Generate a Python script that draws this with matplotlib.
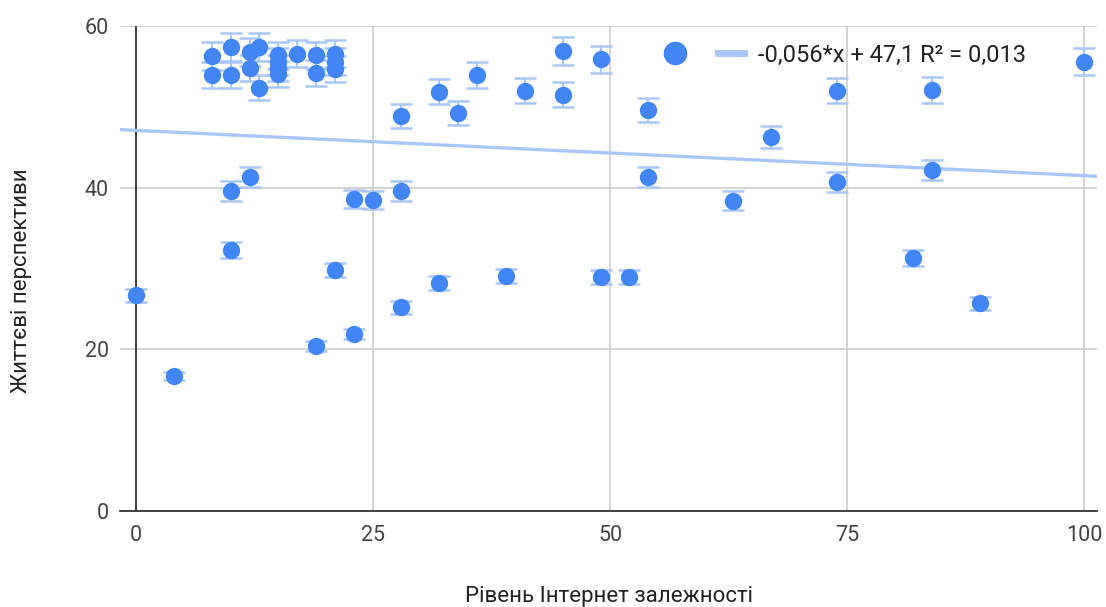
import matplotlib.pyplot as plt
from matplotlib.lines import Line2D
import numpy as np

plt.rcParams['font.family'] = ['Roboto', 'DejaVu Sans']

# Рівень Інтернет залежності (x) vs Життєві перспективи (y)
internet = [0, 4, 8, 8, 10, 10, 10, 10, 12, 12, 12, 13, 13,
            15, 15, 15, 15, 17, 19, 19, 19, 21, 21, 21, 21,
            23, 23, 25, 28, 28, 28, 32, 32, 34, 36, 39, 41,
            45, 45, 49, 49, 52, 54, 54, 63, 67, 74, 74, 82,
            84, 84, 89, 100]
life = [26.7, 16.7, 56.3, 54.0, 57.4, 54.0, 39.6, 32.3, 56.8, 54.8, 41.3, 57.4, 52.4,
        56.4, 55.6, 54.8, 54.1, 56.6, 56.4, 54.2, 20.4, 56.6, 55.6, 54.7, 29.8,
        38.6, 21.9, 38.5, 48.9, 39.6, 25.2, 51.9, 28.2, 49.3, 54.0, 29.1, 52.0,
        56.9, 51.5, 55.9, 29.0, 29.0, 49.6, 41.3, 38.4, 46.3, 52.0, 40.7, 31.3,
        52.1, 42.2, 25.7, 55.6]

# trendline from the chart
slope = -0.056
intercept = 47.1
trend_label = "-0,056*x + 47,1 R² = 0,013"
err_pct = 0.03

x = np.array(internet)
y = np.array(life)

dot = '#4285f4'
light = '#a9c6f8'
text_c = '#222222'

fig = plt.figure(figsize=(11.06, 6.07), dpi=100)
ax = fig.add_axes([0.1085, 0.158, 0.8835, 0.799])

ax.set_xlim(-1.7, 101.4)
ax.set_ylim(0, 60)

# trend line
xl = np.array([-1.7, 101.4])
ax.plot(xl, slope * xl + intercept, color=light, lw=2.4, zorder=2)

ax.errorbar(x, y, yerr=y * err_pct, fmt='none', ecolor=light, elinewidth=1.5,
            capsize=8, capthick=1.8, zorder=3, clip_on=False)
ax.plot(x, y, 'o', color=dot, markersize=12.5, markeredgewidth=0, zorder=4, clip_on=False)

ax.set_xticks([0, 25, 50, 75, 100])
ax.set_yticks([0, 20, 40, 60])
ax.grid(True, color='#cccccc', lw=1.2)
ax.set_axisbelow(True)
for s in ['top', 'right', 'left']:
    ax.spines[s].set_visible(False)
ax.spines['bottom'].set_color('#333333')
ax.spines['bottom'].set_linewidth(1.3)
ax.axvline(0, color='#333333', lw=1.3, zorder=1.5)
ax.tick_params(axis='both', length=0, labelsize=15.5, labelcolor='#444444')
ax.tick_params(axis='x', pad=10)
ax.tick_params(axis='y', pad=8)

ax.set_xlabel('Рівень Інтернет залежності', fontsize=16, color=text_c, va='center')
ax.set_ylabel('Життєві перспективи', fontsize=16, color=text_c, va='center')
ax.xaxis.set_label_coords(0.5, -0.177)
ax.yaxis.set_label_coords(-0.1003, 0.475)

handles = [Line2D([], [], marker='o', color=dot, ls='none', markersize=16),
           Line2D([], [], color=light, lw=5)]
ax.legend(handles, ['', trend_label], ncol=2, frameon=False, fontsize=17,
          loc='center', bbox_to_anchor=(0.741, 0.94), handlelength=1.1,
          columnspacing=0.67, handletextpad=0.6, labelcolor=text_c)

plt.savefig('out.png', dpi=100)
